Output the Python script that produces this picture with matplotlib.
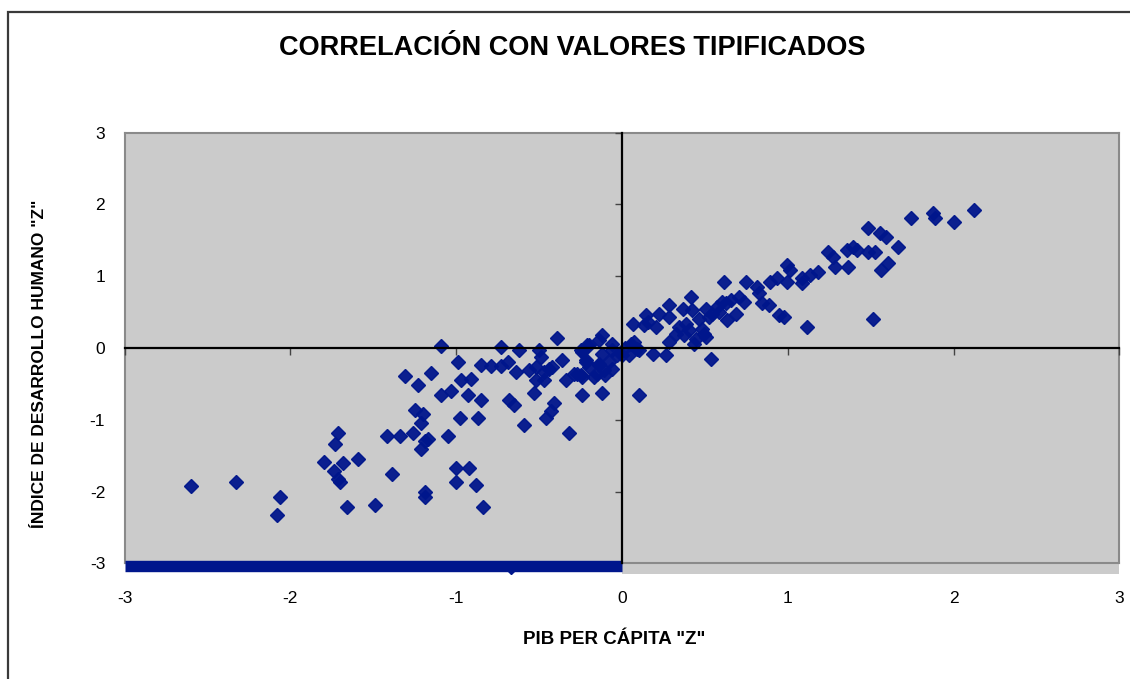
import matplotlib
matplotlib.use("Agg")
import matplotlib.pyplot as plt
from matplotlib.patches import Rectangle

plt.rcParams['font.family'] = ['Liberation Sans', 'DejaVu Sans']

# valores tipificados (z)
pib_z = [
    # paises con pib bajo
    -2.60, -2.33, -2.06, -2.08, -1.71, -1.73, -1.80, -1.74, -1.68, -1.59,
    -1.70, -1.71, -1.66, -1.49, -1.39, -1.42, -1.34, -1.26, -1.31, -1.23,
    -1.15, -1.09, -1.25, -1.20, -1.21, -1.21, -1.19, -1.17, -1.19, -1.19,
    -1.05, -1.09, -1.03, -0.99, -0.97, -0.91, -0.93, -0.85, -0.98, -0.87,
    -1.00, -0.92, -1.00, -0.88, -0.84,
    # cerca de la media
    -0.85, -0.79, -0.73, -0.73, -0.69, -0.62, -0.64, -0.68, -0.65, -0.59,
    -0.53, -0.52, -0.56, -0.50, -0.49, -0.52, -0.47, -0.47, -0.44, -0.42,
    -0.39, -0.36, -0.34, -0.41, -0.43, -0.46, -0.32, -0.29, -0.25, -0.25,
    -0.24, -0.27, -0.24, -0.21, -0.22, -0.24, -0.17, -0.14, -0.12, -0.14,
    -0.14, -0.10, -0.12, -0.08, -0.06, -0.06, -0.06, -0.12, -0.20, -0.20,
    -0.22, -0.15, -0.11, -0.03, 0.00,
    0.055, 0.075, 0.045, 0.105, 0.065, 0.145, 0.155, 0.205, 0.225, 0.285,
    0.285, 0.185, 0.265, 0.285, 0.105, 0.345, 0.365, 0.415, 0.425, 0.385,
    0.405, 0.375, 0.445, 0.435, 0.485, 0.505, 0.465, 0.535, 0.505, 0.545,
    0.575, 0.605, 0.635, 0.655, 0.685, 0.705, 0.735, 0.615, 0.745,
    0.135, 0.325, 0.495, 0.525, 0.585, 0.625, 0.02, 0.09,
    # paises con pib alto
    0.815, 0.825, 0.845, 0.885, 0.895, 0.935, 0.945, 0.975, 0.995, 1.015,
    0.995, 1.085, 1.085, 1.135, 1.185, 1.115, 1.245, 1.275, 1.285, 1.355,
    1.395, 1.415, 1.365, 1.485, 1.485, 1.525, 1.555, 1.595, 1.665, 1.605,
    1.565, 1.515, 1.745, 1.875, 1.885, 2.005, 2.125,
]

idh_z = [
    -1.92, -1.87, -2.07, -2.33, -1.18, -1.34, -1.59, -1.71, -1.60, -1.55,
    -1.86, -1.83, -2.22, -2.18, -1.75, -1.23, -1.23, -1.18, -0.39, -0.51,
    -0.35, 0.03, -0.86, -0.92, -1.04, -1.41, -1.29, -1.27, -2.01, -2.08,
    -1.22, -0.66, -0.60, -0.20, -0.45, -0.43, -0.66, -0.72, -0.97, -0.97,
    -1.67, -1.67, -1.87, -1.91, -2.22,
    -0.23, -0.25, 0.01, -0.25, -0.20, -0.03, -0.34, -0.72, -0.80, -1.07,
    -0.62, -0.45, -0.31, -0.03, -0.13, -0.27, -0.34, -0.45, -0.29, -0.27,
    0.14, -0.17, -0.45, -0.77, -0.88, -0.97, -1.19, -0.36, -0.38, -0.03,
    -0.06, -0.36, -0.41, 0.04, -0.17, -0.65, -0.40, 0.11, -0.08, -0.24,
    -0.22, -0.38, -0.62, -0.20, 0.06, -0.29, -0.03, 0.18, -0.27, 0.04,
    -0.20, -0.36, -0.31, -0.10, -0.10,
    0.06, 0.08, -0.10, -0.03, 0.34, 0.46, 0.36, 0.29, 0.48, 0.60,
    0.43, -0.08, -0.10, 0.08, -0.66, 0.29, 0.55, 0.71, 0.53, 0.34,
    0.25, 0.18, 0.13, 0.06, 0.27, 0.15, 0.41, -0.15, 0.55, 0.48,
    0.57, 0.64, 0.39, 0.67, 0.48, 0.71, 0.64, 0.92, 0.92,
    0.32, 0.20, 0.20, 0.43, 0.50, 0.62, 0.00, -0.02,
    0.85, 0.76, 0.62, 0.60, 0.92, 0.97, 0.46, 0.43, 1.16, 1.09,
    0.92, 0.97, 0.90, 1.02, 1.06, 0.29, 1.34, 1.27, 1.13, 1.37,
    1.41, 1.37, 1.13, 1.67, 1.34, 1.34, 1.60, 1.55, 1.41, 1.18,
    1.09, 0.41, 1.81, 1.88, 1.81, 1.76, 1.92,
]

# franja de puntos sin dato que Excel pinta en el borde inferior
sin_dato_x = [-3.0, 0.0]
sin_dato_y = -3.04
suelto_x = [-0.67]
suelto_y = [-3.07]

ticks = [-3, -2, -1, 0, 1, 2, 3]

azul = '#00168c'
gris = '#cbcbcb'

fig = plt.figure(figsize=(11.3, 6.79), dpi=100)
rect = [124.6 / 1130, 1 - 563.4 / 679, (1119.4 - 124.6) / 1130, (563.4 - 132.6) / 679]

# fondo y etiquetas en el borde del area de trazado
ax = fig.add_axes(rect)
ax.set_facecolor(gris)
for s in ax.spines.values():
    s.set_color('#8a8a8a')
    s.set_linewidth(1.5)
ax.set_xlim(-3, 3)
ax.set_ylim(-3, 3)
ax.set_xticks(ticks)
ax.set_yticks(ticks)
ax.set_xticklabels([str(t) for t in ticks])
ax.set_yticklabels([str(t) for t in ticks])
ax.tick_params(axis='x', length=0, pad=20, labelsize=12.5)
ax.tick_params(axis='y', length=0, pad=14, labelsize=12.5)
# tira gris que asoma bajo el area
ax.add_patch(Rectangle((0.5, -0.024), 0.5, 0.024, transform=ax.transAxes,
                       facecolor=gris, edgecolor='none', clip_on=False))

# ejes que cruzan en cero
ax2 = fig.add_axes(rect, sharex=ax, sharey=ax)
ax2.patch.set_visible(False)
ax2.spines['top'].set_visible(False)
ax2.spines['right'].set_visible(False)
ax2.spines['left'].set_position(('data', 0))
ax2.spines['bottom'].set_position(('data', 0))
ax2.spines['left'].set_linewidth(1.6)
ax2.spines['bottom'].set_linewidth(1.6)
ax2.tick_params(direction='out', length=5, width=1, color='#444444',
                labelbottom=False, labelleft=False)

ax2.plot(sin_dato_x, [sin_dato_y, sin_dato_y], color=azul, lw=8.2,
         solid_capstyle='butt', clip_on=False)
ax2.plot(suelto_x, suelto_y, 'D', color=azul, ms=6.5, clip_on=False)
ax2.plot(pib_z, idh_z, 'D', color=azul, mec=azul, ms=7, alpha=0.95)

fig.text(572 / 1130, 1 - 48 / 679, 'CORRELACIÓN CON VALORES TIPIFICADOS',
         ha='center', va='center', fontsize=19.5, fontweight='bold')
fig.text(614 / 1130, 1 - 640 / 679, 'PIB PER CÁPITA "Z"',
         ha='center', va='center', fontsize=13.5, fontweight='bold')
fig.text(40 / 1130, 1 - 364 / 679, 'ÍNDICE DE DESARROLLO HUMANO "Z"',
         ha='center', va='center', fontsize=12.5, fontweight='bold', rotation=90)

# marco exterior del grafico
fig.patches.append(Rectangle((8 / 1130, -0.1), 1.2, 1 - 12 / 679 + 0.1,
                             transform=fig.transFigure, fill=False,
                             edgecolor='#3a3a3a', lw=1.6))

fig.savefig('out.png', dpi=100)
